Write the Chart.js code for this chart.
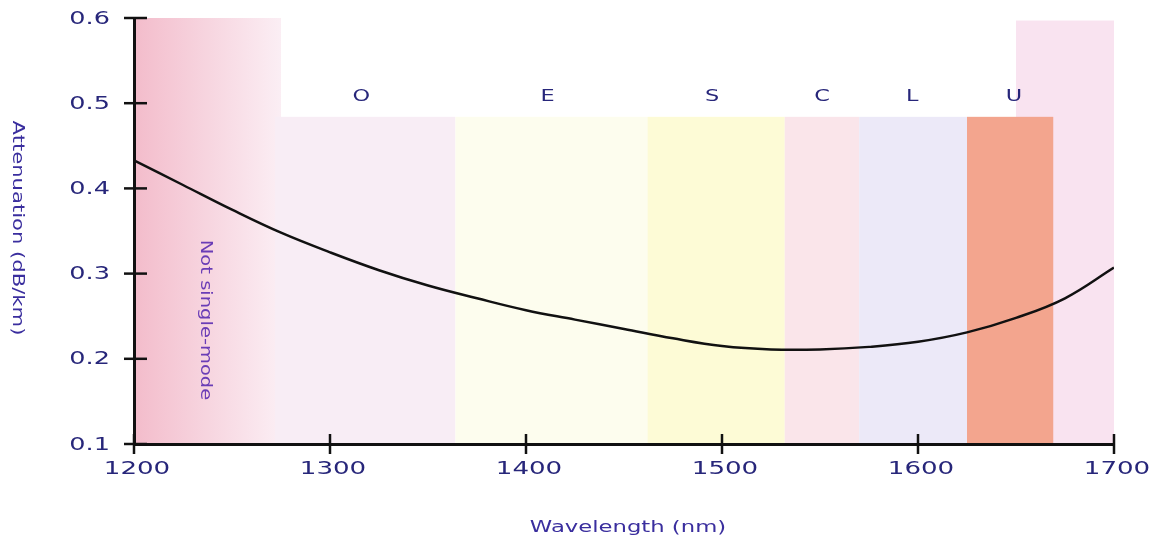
<!DOCTYPE html>
<html>
<head>
<meta charset="utf-8">
<script src="https://cdn.jsdelivr.net/npm/chart.js@4.4.0/dist/chart.umd.min.js"></script>
<style>
  body { margin: 0; background: #fff; }
  #wrap { width: 1149px; height: 543px; }
</style>
</head>
<body>
<div id="wrap"><canvas id="chart" width="1149" height="543"></canvas></div>
<script>
// Data
const wavelengths = [1200, 1225, 1250, 1275, 1300, 1325, 1350, 1375, 1400, 1425, 1450,
                     1475, 1500, 1525, 1550, 1575, 1600, 1625, 1650, 1675, 1700];
const attenuation = [0.433, 0.404, 0.375, 0.348, 0.325, 0.304, 0.286, 0.271, 0.257, 0.246, 0.235,
                     0.224, 0.215, 0.211, 0.211, 0.214, 0.220, 0.231, 0.248, 0.271, 0.307];
const xTickLabels = [1200, 1300, 1400, 1500, 1600, 1700];
const yTickLabels = [0.1, 0.2, 0.3, 0.4, 0.5, 0.6];

// Telecom bands (edges as drawn in the picture)
const bandNames = ['O', 'E', 'S', 'C', 'L', 'U'];
const bandStart = [1272, 1364, 1462, 1532, 1570, 1625];
const bandEnd = [1364, 1462, 1532, 1570, 1625, 1669];
const bandLabelAt = [1316, 1411, 1495, 1551, 1597, 1649];
const bandColors = ['#f8edf5', '#fdfdee', '#fdfbd6', '#fae5ea', '#ece9f8', '#f3a58e'];
const bandTop = 0.484;

const textColor = '#27267a';
const titleColor = '#3a2e9e';

function stretchText(ctx, text, x, y, sx, rot) {
    ctx.save();
    ctx.translate(x, y);
    if (rot) ctx.rotate(rot);
    ctx.scale(sx, 1);
    ctx.fillText(text, 0, 0);
    ctx.restore();
}

// Background regions, tick marks and lettering
const bandsPlugin = {
    id: 'bands',
    beforeDraw(chart) {
        const { ctx, chartArea, scales: { x, y } } = chart;
        ctx.save();
        // not single-mode region, pink fading to the right
        const x0 = x.getPixelForValue(1200);
        const x1 = x.getPixelForValue(1275);
        const grad = ctx.createLinearGradient(x0, 0, x1, 0);
        grad.addColorStop(0, '#f3bccb');
        grad.addColorStop(1, '#fbeef4');
        ctx.fillStyle = grad;
        ctx.fillRect(x0, y.getPixelForValue(0.6), x1 - x0, chartArea.bottom - y.getPixelForValue(0.6));

        // pale pink strip on the far right
        const xr = x.getPixelForValue(1650);
        const yr = y.getPixelForValue(0.597);
        ctx.fillStyle = '#f9e3f0';
        ctx.fillRect(xr, yr, x.getPixelForValue(1700) - xr, chartArea.bottom - yr);

        const top = y.getPixelForValue(bandTop);
        bandNames.forEach((name, i) => {
            const a = x.getPixelForValue(bandStart[i]);
            const b = x.getPixelForValue(bandEnd[i]);
            ctx.fillStyle = bandColors[i];
            ctx.fillRect(a, top, b - a, chartArea.bottom - top);
        });
        ctx.restore();
    },
    afterDraw(chart) {
        const { ctx, chartArea, scales: { x, y } } = chart;
        ctx.save();
        // tick marks crossing the axes
        ctx.strokeStyle = '#111';
        ctx.lineWidth = 2.5;
        y.ticks.forEach(t => {
            const py = y.getPixelForValue(t.value);
            ctx.beginPath();
            ctx.moveTo(chartArea.left - 10, py);
            ctx.lineTo(chartArea.left + 13, py);
            ctx.stroke();
        });
        x.ticks.forEach(t => {
            const px = x.getPixelForValue(t.value);
            ctx.beginPath();
            ctx.moveTo(px, chartArea.bottom - 10);
            ctx.lineTo(px, chartArea.bottom + 10);
            ctx.stroke();
        });

        // tick labels, wide lettering
        ctx.fillStyle = textColor;
        ctx.font = '18px "DejaVu Sans"';
        ctx.textBaseline = 'middle';
        ctx.textAlign = 'right';
        y.ticks.forEach(t => {
            const py = y.getPixelForValue(t.value);
            ctx.save();
            ctx.translate(110, py + 1);
            ctx.scale(1.42, 1);
            ctx.fillText(t.value.toFixed(1), 0, 0);
            ctx.restore();
        });
        ctx.textAlign = 'center';
        x.ticks.forEach(t => {
            const px = x.getPixelForValue(t.value);
            stretchText(ctx, String(t.value), px + 3, chartArea.bottom + 25, 1.45);
        });

        // band letters
        ctx.font = '16px "DejaVu Sans"';
        bandNames.forEach((name, i) => {
            stretchText(ctx, name, x.getPixelForValue(bandLabelAt[i]), y.getPixelForValue(0.508), 1.4);
        });

        // axis titles
        ctx.fillStyle = titleColor;
        ctx.font = '16px "DejaVu Sans"';
        stretchText(ctx, 'Wavelength (nm)', (chartArea.left + chartArea.right) / 2 + 4, 528, 1.42);
        stretchText(ctx, 'Attenuation (dB/km)', 17, 228, 1.32, Math.PI / 2);

        // note in the pink region
        ctx.fillStyle = '#6a3db6';
        ctx.font = '15px "DejaVu Sans"';
        stretchText(ctx, 'Not single-mode', 205, 320, 1.3, Math.PI / 2);
        ctx.restore();
    }
};

const points = wavelengths.map((w, i) => ({ x: w, y: attenuation[i] }));

new Chart(document.getElementById('chart'), {
    type: 'line',
    data: {
        datasets: [{
            data: points,
            borderColor: '#111',
            borderWidth: 2.5,
            pointRadius: 0,
            tension: 0.4,
            fill: false
        }]
    },
    options: {
        responsive: false,
        animation: false,
        layout: { padding: { top: 18, right: 35, left: 0, bottom: 0 } },
        plugins: {
            legend: { display: false },
            tooltip: { enabled: false }
        },
        scales: {
            x: {
                type: 'linear',
                min: xTickLabels[0],
                max: xTickLabels[xTickLabels.length - 1],
                afterBuildTicks: s => { s.ticks = xTickLabels.map(v => ({ value: v })); },
                afterFit: s => { s.height = 99; },
                grid: { display: false },
                border: { color: '#111', width: 3 },
                ticks: { display: false }
            },
            y: {
                min: yTickLabels[0],
                max: yTickLabels[yTickLabels.length - 1],
                afterBuildTicks: s => { s.ticks = yTickLabels.map(v => ({ value: v })); },
                afterFit: s => { s.width = 134; },
                grid: { display: false },
                border: { color: '#111', width: 3 },
                ticks: { display: false }
            }
        }
    },
    plugins: [bandsPlugin]
});
</script>
</body>
</html>
